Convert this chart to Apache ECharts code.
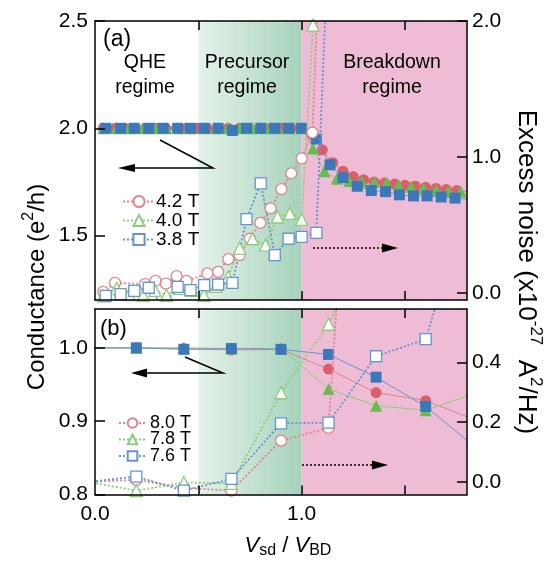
<!DOCTYPE html>
<html>
<head>
<meta charset="utf-8">
<script src="https://cdn.jsdelivr.net/npm/echarts@6/dist/echarts.min.js"></script>
<style>html,body{margin:0;padding:0;background:#fff}#c{width:548px;height:561px}</style>
</head>
<body>
<div id="c"></div>
<script>
// ---------- DATA ----------
// Panel (a): conductance (left axis, e^2/h)
const gA_red_x = [0.04,0.097,0.145,0.193,0.242,0.293,0.343,0.395,0.443,0.496,0.544,0.596,0.645,0.70,0.75,0.80,0.85,0.902,0.95,1.0,1.052,1.10,1.15,1.20,1.25,1.30,1.35,1.40,1.45,1.50,1.55,1.60,1.65,1.70,1.75,1.81];
const gA_red_y = [2.0,2.0,2.0,2.0,2.0,2.0,2.0,2.0,2.0,2.0,2.0,2.0,2.0,2.0,2.0,2.0,2.0,2.0,2.0,2.0,1.97,1.90,1.84,1.80,1.775,1.76,1.75,1.745,1.74,1.735,1.73,1.725,1.72,1.715,1.71,1.705];
const gA_green_x = [0.04,0.105,0.165,0.233,0.29,0.346,0.41,0.467,0.527,0.585,0.644,0.70,0.762,0.825,0.883,0.942,1.0,1.055,1.11,1.17,1.23,1.29,1.35,1.41,1.47,1.53,1.59,1.65,1.71,1.77];
const gA_green_y = [2.0,2.0,2.0,2.0,2.0,2.0,2.0,2.0,2.0,2.0,2.0,2.0,2.0,2.0,2.0,2.0,2.0,1.906,1.80,1.765,1.755,1.752,1.75,1.745,1.735,1.728,1.72,1.712,1.707,1.705];
const gA_blue_x = [0.052,0.124,0.19,0.26,0.33,0.40,0.462,0.528,0.596,0.665,0.733,0.802,0.87,0.937,1.0,1.071,1.137,1.20,1.269,1.337,1.406,1.473,1.541,1.607,1.675,1.742,1.81];
const gA_blue_y = [2.0,2.0,2.0,2.0,2.0,2.0,2.0,2.0,2.0,1.99,2.0,2.0,2.0,2.0,2.0,1.95,1.83,1.77,1.73,1.71,1.705,1.69,1.685,1.685,1.68,1.675,1.67];

// Panel (a): excess noise (right axis, x10^-27 A^2/Hz)
const nA_red_x = [0.04,0.097,0.242,0.293,0.343,0.395,0.443,0.544,0.596,0.645,0.70,0.75,0.80,0.85,0.902,0.95,1.0,1.052,1.10];
const nA_red_y = [0.01,0.076,0.066,0.09,0.071,0.125,0.09,0.145,0.157,0.25,0.28,0.40,0.517,0.623,0.765,0.88,0.99,1.18,3.0];
const nA_green_x = [0.04,0.105,0.165,0.233,0.29,0.346,0.41,0.467,0.527,0.585,0.644,0.70,0.762,0.825,0.883,0.942,1.0,1.055,1.11];
const nA_green_y = [-0.02,0.035,-0.01,-0.015,0.02,-0.015,0.035,0.02,-0.015,0.05,0.12,0.33,0.40,0.353,0.56,0.586,0.542,1.97,3.0];
const nA_blue_x = [0.052,0.124,0.19,0.26,0.33,0.40,0.462,0.528,0.596,0.665,0.733,0.802,0.87,0.937,1.0,1.071,1.14];
const nA_blue_y = [-0.02,-0.007,0.017,0.04,-0.1,0.046,0.022,0.059,0.064,0.076,0.544,0.807,0.28,0.40,0.414,0.443,3.0];

// Panel (b): conductance (left axis)
const gB_x = [-0.033,0.2,0.43,0.66,0.9,1.13,1.36,1.6,1.83];
const gB_red_y = [1.0,1.0,0.999,0.997,0.998,0.971,0.939,0.928,0.903];
const gB_green_y = [1.0,1.0,1.0,0.999,0.999,0.944,0.921,0.915,0.937];
const gB_blue_y = [1.0,1.0,0.998,0.999,0.998,0.991,0.96,0.92,0.867];

// Panel (b): excess noise (right axis)
const nB_x = [-0.033,0.2,0.43,0.66,0.9,1.13,1.36,1.6,1.83];
const nB_red_y = [0.0,0.007,-0.02,-0.029,0.138,0.181,2.6];
const nB_green_y = [0.0,-0.029,-0.002,-0.005,0.298,0.527,0.85];
const nB_blue_y = [0.0,0.018,-0.029,0.01,0.196,0.198,0.42,0.477,1.0];

const legendA = ['4.2 T','4.0 T','3.8 T'];
const legendB = ['8.0 T','7.8 T','7.6 T'];

const xTickLabels = [0, 1.0];
const xTicks = [0.5, 1.0, 1.5];
const yA_left_ticks = [1.5, 2.0, 2.5];
const yA_right_ticks = [0.0, 1.0, 2.0];
const yB_left_ticks = [0.8, 0.9, 1.0];
const yB_right_ticks = [0.0, 0.2, 0.4];

// ---------- STYLE ----------
const FONT = '"Liberation Sans", Arial, Helvetica, sans-serif';
const RED = '#d9606a', GREEN = '#68bb4f', BLUE = '#3b78ba';
const RED_L = '#e2828a', GREEN_L = '#8ccd78', BLUE_L = '#6595cf';
const PINK = '#eebcd5';
const BAND_GREEN = {type:'linear', x:0, y:0, x2:1, y2:0,
  colorStops:[{offset:0, color:'#e5f2ea'},{offset:1, color:'#a6d2bb'}]};

function pts(xs, ys){ return ys.map((y,i)=>[xs[i], y]); }

function noise(name, xs, ys, sym, color, xi, yi, size){
  return {type:'line', name, data:pts(xs,ys), xAxisIndex:xi, yAxisIndex:yi,
    symbol:sym, symbolSize:size, showSymbol:true, clip:true, z:4, animation:false,
    lineStyle:{color, width:1.8, type:[2,2]},
    itemStyle:{color:'#fff', borderColor:color, borderWidth:1.3},
    emphasis:{disabled:true}};
}
function cond(name, xs, ys, sym, color, lcolor, xi, yi, size){
  return {type:'line', name, data:pts(xs,ys), xAxisIndex:xi, yAxisIndex:yi,
    symbol:sym, symbolSize:size, showSymbol:true, clip:true, z:3, animation:false,
    lineStyle:{color:lcolor, width:1},
    itemStyle:{color, borderWidth:0},
    emphasis:{disabled:true}};
}
function bands(xi, yi){
  return {type:'line', name:'bands'+xi, data:[[-5,-5]], xAxisIndex:xi, yAxisIndex:yi,
    symbol:'none', silent:true, z:1, animation:false,
    markArea:{silent:true, data:[
      [{xAxis:0.5, itemStyle:{color:BAND_GREEN}}, {xAxis:1.0}],
      [{xAxis:1.0, itemStyle:{color:PINK}}, {xAxis:1.8}]
    ]}};
}
const tickStyle = {color:'#000', width:1.5};
function xAx(gi, pos, showLabel){
  return {type:'value', gridIndex:gi, position:pos, min:0, max:1.8, z:6,
    axisLine:{show:true, onZero:false, lineStyle:{color:'#000', width:1.5}},
    axisTick:{show:true, inside:true, length:9, customValues:xTicks, lineStyle:tickStyle},
    axisLabel:{show:showLabel, customValues:xTickLabels, formatter:v=>v.toFixed(1),
      fontSize:21, color:'#000', fontFamily:FONT, margin:9},
    splitLine:{show:false}};
}
function yAx(gi, pos, min, max, ticks, margin){
  return {type:'value', gridIndex:gi, position:pos, min, max, z:6,
    axisLine:{show:true, onZero:false, lineStyle:{color:'#000', width:1.5}},
    axisTick:{show:true, inside:true, length:10, customValues:ticks, lineStyle:tickStyle},
    axisLabel:{show:true, customValues:ticks, formatter:v=>v.toFixed(1),
      fontSize:21, color:'#000', fontFamily:FONT, margin},
    splitLine:{show:false}};
}

const chart = echarts.init(document.getElementById('c'), null, {renderer:'canvas'});

const txt = (x, y, text, size, align) => ({type:'text', x, y, z:20, silent:true,
  style:{text, font: size+'px '+FONT, fill:'#000', textAlign:align||'center', align:align||'center',
    textVerticalAlign:'middle', verticalAlign:'middle'}});

const option = {
  animation:false,
  backgroundColor:'#fff',
  grid:[
    {left:95, top:21, width:372, height:279, show:false},
    {left:95, top:309, width:372, height:185.5, show:false}
  ],
  xAxis:[ xAx(0,'bottom',false), xAx(0,'top',false), xAx(1,'bottom',true), xAx(1,'top',false) ],
  yAxis:[
    yAx(0,'left',1.2,2.5,yA_left_ticks,7),
    yAx(0,'right',-0.05,2.0,yA_right_ticks,5),
    yAx(1,'left',0.8,1.053,yB_left_ticks,7),
    yAx(1,'right',-0.042,0.578,yB_right_ticks,5)
  ],
  legend:[
    {data:legendA, orient:'vertical', left:117, top:187, itemWidth:32, itemHeight:14, itemGap:0,
     textStyle:{fontSize:19, fontFamily:FONT, color:'#000', lineHeight:18, padding:[0,0,0,-4]}, selectedMode:false},
    {data:legendB, orient:'vertical', left:113, top:409, itemWidth:27, itemHeight:12, itemGap:-1.5,
     textStyle:{fontSize:18, fontFamily:FONT, color:'#000', lineHeight:16, padding:[0,0,0,-1]}, selectedMode:false}
  ],
  series:[
    bands(0,0), bands(2,2),
    cond('G 4.2 T', gA_red_x, gA_red_y, 'circle', RED, RED_L, 0, 0, 11),
    cond('G 4.0 T', gA_green_x, gA_green_y, 'triangle', GREEN, GREEN_L, 0, 0, 12),
    cond('G 3.8 T', gA_blue_x, gA_blue_y, 'rect', BLUE, BLUE_L, 0, 0, 11),
    noise(legendA[0], nA_red_x, nA_red_y, 'circle', RED_L, 0, 1, 11),
    noise(legendA[1], nA_green_x, nA_green_y, 'triangle', GREEN_L, 0, 1, 12),
    noise(legendA[2], nA_blue_x, nA_blue_y, 'rect', BLUE_L, 0, 1, 11),
    cond('G 8.0 T', gB_x, gB_red_y, 'circle', RED, RED_L, 2, 2, 11),
    cond('G 7.8 T', gB_x, gB_green_y, 'triangle', GREEN, GREEN_L, 2, 2, 12),
    cond('G 7.6 T', gB_x, gB_blue_y, 'rect', BLUE, BLUE_L, 2, 2, 11),
    noise(legendB[0], nB_x, nB_red_y, 'circle', RED_L, 2, 3, 11),
    noise(legendB[1], nB_x, nB_green_y, 'triangle', GREEN_L, 2, 3, 12),
    noise(legendB[2], nB_x, nB_blue_y, 'rect', BLUE_L, 2, 3, 11)
  ],
  graphic:[
    txt(103, 40, '(a)', 23, 'left'),
    txt(145, 63, 'QHE', 19.5), txt(145, 88, 'regime', 19.5),
    txt(247, 63, 'Precursor', 19.5), txt(247, 88, 'regime', 19.5),
    txt(392, 63, 'Breakdown', 19.5), txt(392, 88, 'regime', 19.5),
    txt(100, 329, '(b)', 22, 'left'),
    // arrows panel (a)
    {type:'polyline', z:20, silent:true, shape:{points:[[160,140],[213,168],[128,168]]}, style:{stroke:'#000', lineWidth:1.5, fill:null}},
    {type:'polygon', z:20, silent:true, shape:{points:[[118,168],[135,164],[135,172]]}, style:{fill:'#000'}},
    {type:'line', z:20, silent:true, shape:{x1:313, y1:248, x2:384, y2:248}, style:{stroke:'#000', lineWidth:1.5, lineDash:[2,2]}},
    {type:'polygon', z:20, silent:true, shape:{points:[[398,248],[382,243.5],[382,252.5]]}, style:{fill:'#000'}},
    // arrows panel (b)
    {type:'polyline', z:20, silent:true, shape:{points:[[185,357],[223,373],[140,373]]}, style:{stroke:'#000', lineWidth:1.5, fill:null}},
    {type:'polygon', z:20, silent:true, shape:{points:[[131,373],[147,368.5],[147,377.5]]}, style:{fill:'#000'}},
    {type:'line', z:20, silent:true, shape:{x1:302, y1:465, x2:374, y2:465}, style:{stroke:'#000', lineWidth:1.5, lineDash:[2,2]}},
    {type:'polygon', z:20, silent:true, shape:{points:[[388,465],[372,460.5],[372,469.5]]}, style:{fill:'#000'}},
    // axis titles
    {type:'text', x:35, y:287, rotation:Math.PI/2, z:20, silent:true,
     style:{text:'{n|Conductance (e}{s|2}{n|/h)}', align:'center', verticalAlign:'middle', textAlign:'center', textVerticalAlign:'middle',
       rich:{n:{fontSize:24, fontFamily:FONT, fill:'#000', color:'#000', lineHeight:29, verticalAlign:'bottom'},
             s:{fontSize:16, fontFamily:FONT, fill:'#000', color:'#000', lineHeight:17, verticalAlign:'top'}}}},
    {type:'text', x:529, y:272, rotation:-Math.PI/2, z:20, silent:true,
     style:{text:'{n|Excess noise (x10}{s|-27}{n|  A}{s|2}{n|/Hz)}', align:'center', verticalAlign:'middle', textAlign:'center', textVerticalAlign:'middle',
       rich:{n:{fontSize:26, fontFamily:FONT, fill:'#000', color:'#000', lineHeight:31, verticalAlign:'bottom'},
             s:{fontSize:17, fontFamily:FONT, fill:'#000', color:'#000', lineHeight:18, verticalAlign:'top'}}}},
    {type:'text', x:288, y:547, z:20, silent:true,
     style:{text:'{i|V}{b|sd}{n| / }{i|V}{b|BD}', align:'center', verticalAlign:'middle', textAlign:'center', textVerticalAlign:'middle',
       rich:{i:{fontSize:22, fontStyle:'italic', fontFamily:FONT, fill:'#000', color:'#000', lineHeight:24, verticalAlign:'top'},
             n:{fontSize:22, fontFamily:FONT, fill:'#000', color:'#000', lineHeight:24, verticalAlign:'top'},
             b:{fontSize:16, fontFamily:FONT, fill:'#000', color:'#000', lineHeight:16, verticalAlign:'bottom'}}}}
  ]
};
chart.setOption(option);
</script>
</body>
</html>
